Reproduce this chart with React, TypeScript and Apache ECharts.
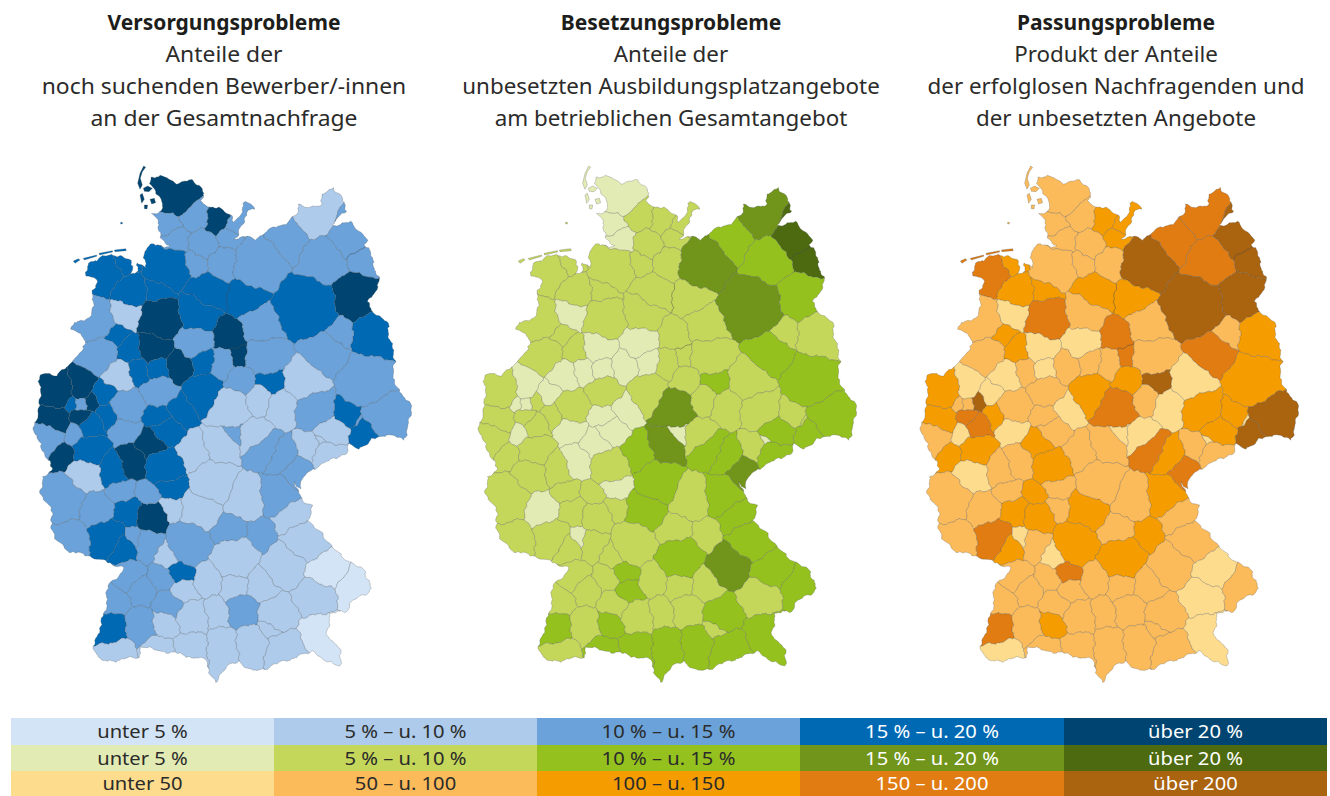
import React, { useEffect, useRef } from "react";
import * as echarts from "echarts";

// ---- chart texts ----
const columnCentres = [224, 671, 1116];
const columnHeads = ["Versorgungsprobleme", "Besetzungsprobleme", "Passungsprobleme"];
const columnLines = [
  ["Anteile der", "noch suchenden Bewerber/-innen", "an der Gesamtnachfrage"],
  ["Anteile der", "unbesetzten Ausbildungsplatzangebote", "am betrieblichen Gesamtangebot"],
  ["Produkt der Anteile", "der erfolglosen Nachfragenden und", "der unbesetzten Angebote"],
];
const legendShareLabels = ["unter 5 %", "5 % – u. 10 %", "10 % – u. 15 %", "15 % – u. 20 %", "über 20 %"];
const legendProductLabels = ["unter 50", "50 – u. 100", "100 – u. 150", "150 – u. 200", "über 200"];

// ---- class colours ----
const blues = ["#d3e4f6", "#aecbeb", "#6aa2d9", "#0069b4", "#004571"];
const greens = ["#e3ebb4", "#c5d75b", "#95c11f", "#71951a", "#4d6a10"];
const oranges = ["#fddc8e", "#fbbb5b", "#f59c00", "#e07c12", "#aa630f"];

// ---- map geometry: country outline and region centres [x, y, reach] ----
const outline = [
  [378,50],[420,52],[455,68],[495,62],[525,75],[540,95],[525,122],[553,140],[590,148],[618,168],[628,182],[650,160],[652,135],[665,124],[686,145],[665,155],[662,185],[640,212],[628,235],[660,228],[695,240],[720,215],[770,195],[800,175],[818,158],[822,133],[850,140],[885,140],[895,100],[925,85],[945,110],[968,155],[935,175],[918,195],[972,188],[1000,205],[1028,238],[1015,250],[1035,265],[1040,300],[1060,350],[1055,390],[1030,425],[1030,445],[1085,480],[1095,540],[1112,600],[1100,625],[1120,690],[1155,730],[1158,770],[1135,840],[1085,822],[1040,840],[1000,865],[975,855],[960,880],[890,910],[860,930],[835,955],[825,985],[810,960],[825,1010],[860,1040],[850,1080],[885,1120],[950,1185],[975,1210],[1020,1230],[1035,1270],[1030,1300],[985,1320],[965,1355],[915,1360],[905,1420],[930,1450],[950,1470],[945,1515],[900,1505],[860,1470],[820,1490],[780,1500],[720,1525],[680,1535],[640,1500],[600,1530],[570,1565],[555,1540],[540,1500],[480,1485],[420,1475],[350,1460],[345,1490],[280,1500],[230,1505],[205,1470],[240,1350],[250,1280],[300,1220],[250,1210],[190,1185],[130,1175],[75,1110],[85,1060],[45,1000],[55,950],[85,930],[70,900],[40,840],[25,795],[45,740],[45,650],[65,635],[100,650],[140,600],[175,570],[185,540],[140,510],[150,490],[200,470],[205,400],[215,360],[185,350],[190,310],[225,290],[290,285],[320,305],[318,345],[335,340],[335,310],[360,320],[360,270],[375,255],[440,258],[405,235],[403,205],[400,175],[375,165],[410,150],[415,125],[395,100],[380,75],
];
const regionCentres = [
  [455,105,70],[510,165,45],[578,178,38],[632,190,30],[430,195,35],[450,240,40],[535,255,42],[610,235,25],[510,300,25],[595,305,42],
  [705,315,88],[790,245,62],[865,180,50],[970,235,55],[890,305,75],[990,410,70],[425,320,68],[240,345,55],[300,315,20],[315,395,52],
  [395,385,28],[405,480,65],[550,400,50],[520,460,55],[210,480,65],[300,460,45],[275,515,22],[320,570,32],[385,560,48],[465,620,42],
  [510,550,50],[615,530,35],[715,495,65],[840,440,105],[1045,525,65],[945,520,30],[895,585,70],[1020,665,85],[725,590,70],[590,610,38],
  [735,655,42],[840,655,70],[535,605,40],[225,585,50],[280,645,42],[340,630,30],[400,625,32],[535,700,60],[650,660,42],[610,745,65],
  [700,715,38],[770,740,42],[870,745,60],[965,765,40],[1080,770,75],[1025,820,50],[1005,795,12],[95,695,55],[170,680,35],[195,725,15],
  [168,732,14],[133,730,12],[235,700,28],[255,765,30],[90,775,40],[155,825,20],[195,800,35],[170,770,22],[305,745,52],[405,695,48],
  [300,800,35],[400,770,35],[465,745,38],[420,815,45],[65,840,50],[108,880,25],[195,870,48],[185,945,48],[110,1020,72],[215,1050,50],
  [135,1140,60],[245,1130,52],[295,1165,35],[310,1050,40],[380,1070,48],[290,995,35],[370,1005,30],[265,930,45],[320,910,42],[385,850,42],
  [420,920,60],[435,980,38],[438,1045,28],[530,1050,65],[500,880,42],[565,975,70],[590,850,45],[620,820,25],[690,830,45],[720,865,48],
  [770,890,45],[855,865,28],[915,890,55],[898,850,12],[925,815,48],[815,935,40],[755,1010,60],[800,1070,48],[845,1150,75],[660,1020,65],
  [615,1110,52],[700,1125,32],[630,1190,70],[785,1220,75],[490,1150,70],[430,1180,30],[370,1150,38],[330,1135,16],[470,1240,28],[475,1295,38],
  [310,1250,40],[350,1290,38],[270,1325,38],[410,1260,28],[550,1260,40],[628,1280,38],[435,1335,45],[500,1370,52],[575,1355,34],[650,1345,42],
  [715,1275,48],[765,1360,60],[865,1305,70],[895,1230,70],[985,1285,50],[885,1420,65],[748,1400,28],[785,1470,62],[680,1450,42],[590,1460,45],
  [500,1465,48],[395,1465,42],[420,1390,42],[255,1415,60],[270,1480,62],[345,1400,52],
];
// second centres of long regions: [region index, x, y, reach]
const extraCentres = [[13,1015,300,30],[22,670,410,55],[31,640,590,22]];
// islands: [region index, ring]
const islands: [number, number[][]][] = [
  [0,[[356,18],[345,40],[338,70],[345,88],[352,75],[346,55],[352,35],[362,22]]],
  [0,[[355,85],[368,78],[382,85],[372,95],[358,94]]],
  [0,[[345,105],[352,100],[358,118],[350,130]]],
  [0,[[375,118],[388,115],[392,128],[380,132]]],
  [0,[[358,135],[368,135],[366,147],[358,146]]],
  [16,[[287,187],[292,187],[292,192],[287,192]]],
  [17,[[145,303],[160,296],[165,300],[150,310]]],
  [17,[[175,295],[215,285],[215,289],[178,300]]],
  [17,[[222,280],[262,272],[263,276],[224,285]]],
  [17,[[268,270],[302,266],[304,272],[270,275]]],
];

// ---- values: class (0 = lowest … 4 = highest) of every region ----
const versorgung = [
  4,2,4,2,2,2,2,2,2,2, 2,2,1,2,2,4,3,3,3,3,
  3,4,3,3,2,1,3,3,4,4, 2,4,2,3,3,2,2,2,2,2,
  3,1,3,2,1,3,3,3,2,1, 1,1,2,3,2,3,2,4,4,4,
  2,3,3,3,4,2,3,4,2,2, 2,3,3,3,2,4,3,1,2,2,
  2,3,3,3,4,2,2,3,4,4, 3,3,1,1,1,1,1,2,1,2,
  2,1,1,1,1,2,2,1,1,1, 2,2,1,1,2,1,2,2,3,1,
  2,2,2,2,1,1,2,1,1,2, 1,1,1,0,0,0,1,1,1,1,
  1,1,1,3,1,2,
];
const besetzung = [
  0,1,1,1,0,0,1,1,1,1, 3,2,3,4,2,2,1,1,1,1,
  1,1,1,1,1,0,1,1,0,0, 0,1,1,3,1,1,2,2,1,1,
  2,1,0,1,0,0,0,1,1,3, 1,1,1,1,2,2,1,1,0,1,
  0,0,0,1,1,0,1,1,1,1, 0,0,0,0,1,1,1,1,1,0,
  1,1,1,1,1,1,1,1,0,0, 1,0,1,2,2,2,3,0,1,2,
  2,1,2,0,2,3,2,2,2,1, 1,1,2,3,1,1,1,0,2,2,
  1,1,1,1,1,1,1,1,1,1, 1,2,1,2,2,2,1,2,2,2,
  2,2,2,2,1,1,
];
const passung = [
  1,1,2,2,1,1,1,2,1,1, 4,3,3,4,3,4,1,3,2,2,
  2,3,2,1,1,0,2,2,0,1, 0,3,1,4,2,1,3,2,1,1,
  4,0,1,1,0,1,0,2,2,3, 1,0,2,2,4,4,0,2,0,4,
  1,1,0,2,2,0,3,3,1,1, 0,1,0,1,1,2,2,0,1,1,
  1,3,2,2,2,1,2,1,1,2, 2,1,1,2,1,1,1,0,0,3,
  2,1,1,0,2,3,2,1,1,1, 1,2,2,1,2,0,1,0,3,1,
  1,1,1,1,1,1,1,1,1,1, 1,1,0,0,1,0,1,1,1,1,
  1,1,2,3,0,1,
];

const regionName = (i: number) => "Bezirk " + (i + 1);

// Clip one ring against a half-plane, splitting it where it falls apart.
function clipRing(ring: number[][], a: number, b: number, c: number): number[][][] {
  const d = ring.map((p) => {
    const v = a * p[0] + b * p[1] - c;
    return v === 0 ? -1e-7 : v;
  });
  if (d.every((v) => v < 0)) return [ring];
  if (d.every((v) => v > 0)) return [];
  const n = ring.length;
  let startAt = 0;
  for (let i = 0; i < n; i++) if (d[i] > 0) { startAt = i; break; }
  const chains: number[][][] = [];
  let cur: number[][] | null = null;
  for (let k = 0; k < n; k++) {
    const i = (startAt + k) % n;
    const j = (i + 1) % n;
    const p = ring[i];
    const q = ring[j];
    const hit = () => {
      const t = d[i] / (d[i] - d[j]);
      return [p[0] + t * (q[0] - p[0]), p[1] + t * (q[1] - p[1])];
    };
    if (d[i] > 0 && d[j] < 0) {
      cur = [hit(), q];
    } else if (d[i] < 0 && d[j] < 0) {
      cur!.push(q);
    } else if (d[i] < 0 && d[j] > 0) {
      cur!.push(hit());
      chains.push(cur!);
      cur = null;
    }
  }
  const along = (p: number[]) => -b * p[0] + a * p[1];
  const ends: { s: number; k: number; start: boolean }[] = [];
  chains.forEach((ch, k) => {
    ends.push({ s: along(ch[0]), k, start: true });
    ends.push({ s: along(ch[ch.length - 1]), k, start: false });
  });
  ends.sort((x, y) => x.s - y.s);
  const next = chains.map(() => -1);
  for (let i = 0; i + 1 < ends.length; i += 2) {
    const A = ends[i];
    const B = ends[i + 1];
    if (!A.start && B.start) next[A.k] = B.k;
    else if (A.start && !B.start) next[B.k] = A.k;
  }
  const seen = chains.map(() => false);
  const rings: number[][][] = [];
  chains.forEach((_, k) => {
    if (seen[k]) return;
    const out: number[][] = [];
    let at = k;
    while (at >= 0 && !seen[at]) {
      seen[at] = true;
      out.push(...chains[at]);
      at = next[at];
    }
    rings.push(out);
  });
  return rings;
}

const ringArea = (r: number[][]) => {
  let s = 0;
  r.forEach((p, i) => {
    const q = r[(i + 1) % r.length];
    s += p[0] * q[1] - q[0] * p[1];
  });
  return Math.abs(s) / 2;
};

// Borders of the source map are irregular: bend the straight cell edges with a smooth displacement.
const bendX = (x: number, y: number) => 3.2 * Math.sin(y * 0.09 + x * 0.03) + 2 * Math.sin(y * 0.23 + 1.3) + 1.2 * Math.sin((x + y) * 0.5);
const bendY = (x: number, y: number) => 3.2 * Math.sin(x * 0.085 - y * 0.02 + 2) + 2 * Math.sin(x * 0.21 + 0.5) + 1.2 * Math.sin((x - y) * 0.47);
function bendRing(ring: number[][]) {
  const out: number[][] = [];
  ring.forEach((p, i) => {
    const q = ring[(i + 1) % ring.length];
    const steps = Math.max(1, Math.round(Math.hypot(q[0] - p[0], q[1] - p[1]) / 6));
    for (let k = 0; k < steps; k++) {
      const x = p[0] + ((q[0] - p[0]) * k) / steps;
      const y = p[1] + ((q[1] - p[1]) * k) / steps;
      out.push([x + bendX(x, y), y + bendY(x, y)]);
    }
  });
  return out;
}

function buildGeo() {
  const sites = [
    ...regionCentres.map((s, i) => ({ region: i, x: s[0], y: s[1], r: s[2] * 0.85 })),
    ...extraCentres.map((s) => ({ region: s[0], x: s[1], y: s[2], r: s[3] * 0.85 })),
  ];
  const polys: number[][][][] = regionCentres.map(() => []);
  sites.forEach((s, i) => {
    let cell: number[][][] = [outline];
    sites.forEach((o, j) => {
      if (i === j || cell.length === 0) return;
      const a = 2 * (o.x - s.x);
      const b = 2 * (o.y - s.y);
      const c = o.x * o.x + o.y * o.y - o.r * o.r - s.x * s.x - s.y * s.y + s.r * s.r;
      cell = cell.flatMap((ring) => clipRing(ring, a, b, c));
    });
    cell.filter((r) => r.length >= 3 && ringArea(r) > 3).forEach((r) => polys[s.region].push(bendRing(r)));
  });
  islands.forEach(([r, ring]) => polys[r].push(ring));
  const toRing = (ring: number[][]) => {
    const pts = ring.map((p) => [p[0], -p[1]]);
    pts.push(pts[0]);
    return [pts];
  };
  return {
    type: "FeatureCollection",
    features: polys.map((list, i) => ({
      type: "Feature",
      properties: { name: regionName(i) },
      geometry: { type: "MultiPolygon", coordinates: list.map(toRing) },
    })),
  };
}

function bounds(geo: any) {
  let x0 = Infinity, x1 = -Infinity, y0 = Infinity, y1 = -Infinity;
  geo.features.forEach((f: any) =>
    f.geometry.coordinates.forEach((poly: any) =>
      poly[0].forEach((p: number[]) => {
        x0 = Math.min(x0, p[0]); x1 = Math.max(x1, p[0]);
        y0 = Math.min(y0, -p[1]); y1 = Math.max(y1, -p[1]);
      })
    )
  );
  return { x0, x1, y0, y1 };
}

const FONT = '"Noto Sans", sans-serif';

export default function App() {
  const ref = useRef<HTMLDivElement>(null);
  useEffect(() => {
    document.body.style.margin = "0";
    const chart = echarts.init(ref.current!, undefined, { renderer: "svg" });
    const geo = buildGeo();
    ["deA", "deB", "deC"].forEach((n) => echarts.registerMap(n, geo as any));
    const b = bounds(geo);
    const mapOriginX = [25, 470, 912];
    const mapOriginY = 160;
    const maps = ["deA", "deB", "deC"];
    const values = [versorgung, besetzung, passung];
    const palettes = [blues, greens, oranges];
    const columnStretch = [1.09, 1.065, 1.065];

    const graphic: any[] = [];
    columnCentres.forEach((cx, c) => {
      graphic.push({
        type: "text", x: cx, y: 22, silent: true,
        style: { text: columnHeads[c], font: `bold 21px ${FONT}`, fill: "#1d1d1b", textAlign: "center", textVerticalAlign: "middle" },
      });
      columnLines[c].forEach((t, l) => {
        graphic.push({
          type: "text", x: cx, y: 53.5 + l * 32, scaleX: columnStretch[c], silent: true,
          style: { text: t, font: `21px ${FONT}`, fill: "#2b2b2a", textAlign: "center", textVerticalAlign: "middle" },
        });
      });
    });
    const legendX = [11, 274, 537, 800, 1064, 1327];
    const legendY = [718, 745, 771, 796];
    [blues, greens, oranges].forEach((pal, row) => {
      const labels = row < 2 ? legendShareLabels : legendProductLabels;
      pal.forEach((col, i) => {
        graphic.push({
          type: "rect", silent: true,
          shape: { x: legendX[i], y: legendY[row], width: legendX[i + 1] - legendX[i], height: legendY[row + 1] - legendY[row] },
          style: { fill: col },
        });
        graphic.push({
          type: "text", silent: true, z: 5, scaleX: 1.12,
          x: (legendX[i] + legendX[i + 1]) / 2, y: (legendY[row] + legendY[row + 1]) / 2,
          style: { text: labels[i], font: `18px ${FONT}`, fill: i < 3 ? "#2b2b2a" : "#ffffff", textAlign: "center", textVerticalAlign: "middle" },
        });
      });
    });

    chart.setOption({
      animation: false,
      backgroundColor: "#ffffff",
      graphic,
      visualMap: palettes.map((pal, s) => ({
        type: "piecewise",
        show: false,
        seriesIndex: s,
        pieces: pal.map((color, i) => ({ value: i, color })),
      })),
      series: maps.map((m, s) => ({
        type: "map",
        map: m,
        roam: false,
        silent: true,
        aspectScale: 1,
        left: mapOriginX[s] + b.x0 / 3,
        top: mapOriginY + b.y0 / 3,
        width: (b.x1 - b.x0) / 3,
        height: (b.y1 - b.y0) / 3,
        label: { show: false },
        emphasis: { disabled: true },
        select: { disabled: true },
        itemStyle: { borderColor: "rgba(70,75,80,0.5)", borderWidth: 0.5 },
        data: values[s].map((v, i) => ({ name: regionName(i), value: v })),
      })),
    });
    return () => chart.dispose();
  }, []);
  return <div ref={ref} style={{ position: "absolute", left: 0, top: 0, width: 1330, height: 796 }} />;
}
